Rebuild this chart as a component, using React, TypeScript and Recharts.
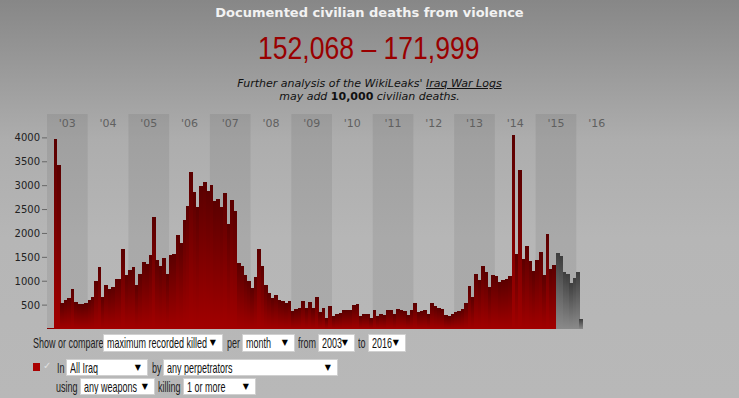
import React from "react";
import { BarChart, Bar, XAxis, YAxis, ReferenceArea } from "recharts";

const years = [2003, 2004, 2005, 2006, 2007, 2008, 2009, 2010, 2011, 2012, 2013, 2014, 2015, 2016];
const yearLabels = ["'03", "'04", "'05", "'06", "'07", "'08", "'09", "'10", "'11", "'12", "'13", "'14", "'15", "'16"];
const monthNames = ["Jan", "Feb", "Mar", "Apr", "May", "Jun", "Jul", "Aug", "Sep", "Oct", "Nov", "Dec"];

// Jan 2003 - Jun 2015
const recordedKilled = [
  30, 30, 3984, 3438, 541, 604, 646, 835, 562, 527, 513, 534,
  604, 674, 1003, 1297, 674, 919, 842, 884, 1045, 1045, 1675, 1129,
  1234, 1297, 919, 1150, 1402, 1360, 1549, 2347, 1444, 1318, 1486, 1150,
  1549, 1570, 1969, 1801, 2284, 2578, 3291, 2872, 2557, 2998, 3082, 2893,
  3019, 2683, 2725, 2557, 2851, 2200, 2704, 2473, 1381, 1318, 1129, 1003,
  856, 1087, 1675, 1318, 919, 751, 646, 709, 604, 583, 541, 583,
  373, 415, 436, 583, 436, 562, 436, 667, 352, 436, 226, 478,
  268, 310, 331, 394, 394, 394, 499, 520, 268, 310, 310, 226,
  394, 268, 310, 289, 394, 394, 310, 415, 394, 373, 289, 394,
  541, 352, 373, 394, 310, 541, 478, 436, 415, 289, 268, 310,
  352, 373, 415, 541, 898, 667, 1150, 1024, 1318, 1192, 877, 1129,
  1108, 982, 1024, 1045, 1108, 4068, 1570, 3333, 1465, 1738, 1423, 1213,
  1444, 1612, 1129, 1990, 1255, 1339,
];

// Jul 2015 - Feb 2016, not yet final
const provisional = [1591, 1528, 1192, 1150, 961, 1066, 1192, 206];

const yTicks = [500, 1000, 1500, 2000, 2500, 3000, 3500, 4000];

const data = years.flatMap((y, yi) =>
  monthNames.map((m, mi) => {
    const i = yi * 12 + mi;
    const p = i - recordedKilled.length;
    return {
      month: `${m} ${y}`,
      recorded: i < recordedKilled.length ? recordedKilled[i] : 0,
      provisional: p >= 0 && p < provisional.length ? provisional[p] : 0,
    };
  })
);

const PLOT_LEFT = 47;
const PLOT_RIGHT = 617;
const bandWidth = (PLOT_RIGHT - PLOT_LEFT) / data.length;

// bars fill the whole month slot, no gaps
function SlotBar(props) {
  const { x, y, width, height, fill } = props;
  if (!height || height <= 0) return <g />;
  const cx = x + width / 2;
  return (
    <rect
      x={cx - bandWidth / 2}
      y={y}
      width={bandWidth + 0.4}
      height={height}
      fill={fill}
      shapeRendering="crispEdges"
    />
  );
}

const sans = '"Liberation Sans", Arial, sans-serif';

function Narrow({ children, scale = 0.6 }) {
  return (
    <span style={{ display: "inline-block", transform: `scaleX(${scale})`, transformOrigin: "left center" }}>
      {children}
    </span>
  );
}

function Select({ left, top, width, height, text }) {
  return (
    <div
      style={{
        position: "absolute",
        left,
        top,
        width,
        height,
        boxSizing: "border-box",
        background: "#fff",
        border: "1px solid #d0d0d0",
        fontFamily: sans,
        fontSize: 15,
        lineHeight: `${height - 2}px`,
        paddingLeft: 3,
        color: "#111",
        whiteSpace: "nowrap",
        overflow: "hidden",
      }}
    >
      <Narrow>{text}</Narrow>
      <span
        style={{
          position: "absolute",
          right: 6,
          top: 0,
          fontFamily: "DejaVu Sans",
          fontSize: 8,
          color: "#000",
        }}
      >
        ▼
      </span>
    </div>
  );
}

function Label({ left, top, height, text }) {
  return (
    <div
      style={{
        position: "absolute",
        left,
        top,
        height,
        lineHeight: `${height}px`,
        fontFamily: sans,
        fontSize: 15,
        color: "#222",
        whiteSpace: "nowrap",
      }}
    >
      <Narrow>{text}</Narrow>
    </div>
  );
}

export default function App() {
  return (
    <div
      style={{
        position: "absolute",
        left: 0,
        top: 0,
        width: 739,
        height: 398,
        overflow: "hidden",
        background: "linear-gradient(#878787 0%, #adadad 35%, #b6b6b6 60%, #b8b8b8 100%)",
      }}
    >
      <div
        style={{
          position: "absolute",
          top: 5,
          width: 739,
          textAlign: "center",
          fontFamily: "DejaVu Sans",
          fontWeight: "bold",
          fontSize: 13,
          lineHeight: "16px",
          color: "#f2f2f2",
        }}
      >
        Documented civilian deaths from violence
      </div>
      <div
        style={{
          position: "absolute",
          top: 30,
          left: 258,
          fontFamily: sans,
          fontSize: 32,
          lineHeight: "36px",
          color: "#990000",
          whiteSpace: "nowrap",
        }}
      >
        <Narrow scale={0.83}>152,068 – 171,999</Narrow>
      </div>
      <div
        style={{
          position: "absolute",
          top: 77,
          width: 739,
          textAlign: "center",
          fontFamily: "DejaVu Sans",
          fontStyle: "italic",
          fontSize: 11,
          lineHeight: "13px",
          color: "#111",
        }}
      >
        Further analysis of the WikiLeaks' <span style={{ textDecoration: "underline" }}>Iraq War Logs</span>
        <br />
        may add <b style={{ fontStyle: "normal" }}>10,000</b> civilian deaths.
      </div>

      <div style={{ position: "absolute", left: 0, top: 0 }}>
        <BarChart
          width={739}
          height={340}
          data={data}
          margin={{ top: 114, right: 739 - PLOT_RIGHT, bottom: 11, left: 7 }}
          barCategoryGap={0}
        >
          <defs>
            <linearGradient id="redGrad" x1="0" y1="0" x2="0" y2="1">
              <stop offset="0%" stopColor="#5a0000" />
              <stop offset="100%" stopColor="#a20000" />
            </linearGradient>
            <linearGradient id="greyGrad" x1="0" y1="0" x2="0" y2="1">
              <stop offset="0%" stopColor="#3e3e3e" />
              <stop offset="100%" stopColor="#8a8a8a" />
            </linearGradient>
          </defs>
          {years.map((y, yi) => (
            <ReferenceArea
              key={y}
              x1={`Jan ${y}`}
              x2={`Dec ${y}`}
              y1={0}
              y2={4500}
              fill={yi % 2 === 0 && y !== 2016 ? "#000" : "none"}
              fillOpacity={0.07}
              stroke="none"
              label={{
                value: yearLabels[yi],
                position: "insideTop",
                offset: 5,
                fill: "#606060",
                fontSize: 11,
                fontFamily: "DejaVu Sans",
              }}
            />
          ))}
          <XAxis
            dataKey="month"
            tick={false}
            tickLine={false}
            height={0}
            axisLine={{ stroke: "#000", strokeWidth: 1.5 }}
          />
          <YAxis
            width={40}
            domain={[0, 4500]}
            ticks={yTicks}
            axisLine={false}
            tickSize={5}
            tickMargin={2}
            tickLine={{ stroke: "#666" }}
            tick={{ fill: "#222", fontSize: 10, fontFamily: "DejaVu Sans" }}
          />
          <Bar dataKey="recorded" stackId="a" fill="url(#redGrad)" shape={<SlotBar />} isAnimationActive={false} />
          <Bar dataKey="provisional" stackId="a" fill="url(#greyGrad)" shape={<SlotBar />} isAnimationActive={false} />
        </BarChart>
      </div>

      <Label left={33} top={334} height={18} text="Show or compare" />
      <Select left={103} top={334} width={120} height={18} text="maximum recorded killed" />
      <Label left={227} top={334} height={18} text="per" />
      <Select left={242} top={334} width={53} height={18} text="month" />
      <Label left={298} top={334} height={18} text="from" />
      <Select left={318} top={334} width={37} height={18} text="2003" />
      <Label left={358} top={334} height={18} text="to" />
      <Select left={368} top={334} width={38} height={18} text="2016" />

      <div style={{ position: "absolute", left: 33, top: 363, width: 7, height: 8, background: "#aa0000" }} />
      <div
        style={{
          position: "absolute",
          left: 43,
          top: 359,
          fontFamily: "DejaVu Sans",
          fontSize: 10,
          color: "#e0e0e0",
          lineHeight: "14px",
        }}
      >
        ✓
      </div>
      <Label left={57} top={359} height={17} text="In" />
      <Select left={66} top={359} width={82} height={17} text="All Iraq" />
      <Label left={152} top={359} height={17} text="by" />
      <Select left={163} top={359} width={175} height={17} text="any perpetrators" />

      <Label left={56} top={378} height={17} text="using" />
      <Select left={80} top={378} width={75} height={17} text="any weapons" />
      <Label left={158} top={378} height={17} text="killing" />
      <Select left={183} top={378} width={73} height={17} text="1 or more" />
    </div>
  );
}
